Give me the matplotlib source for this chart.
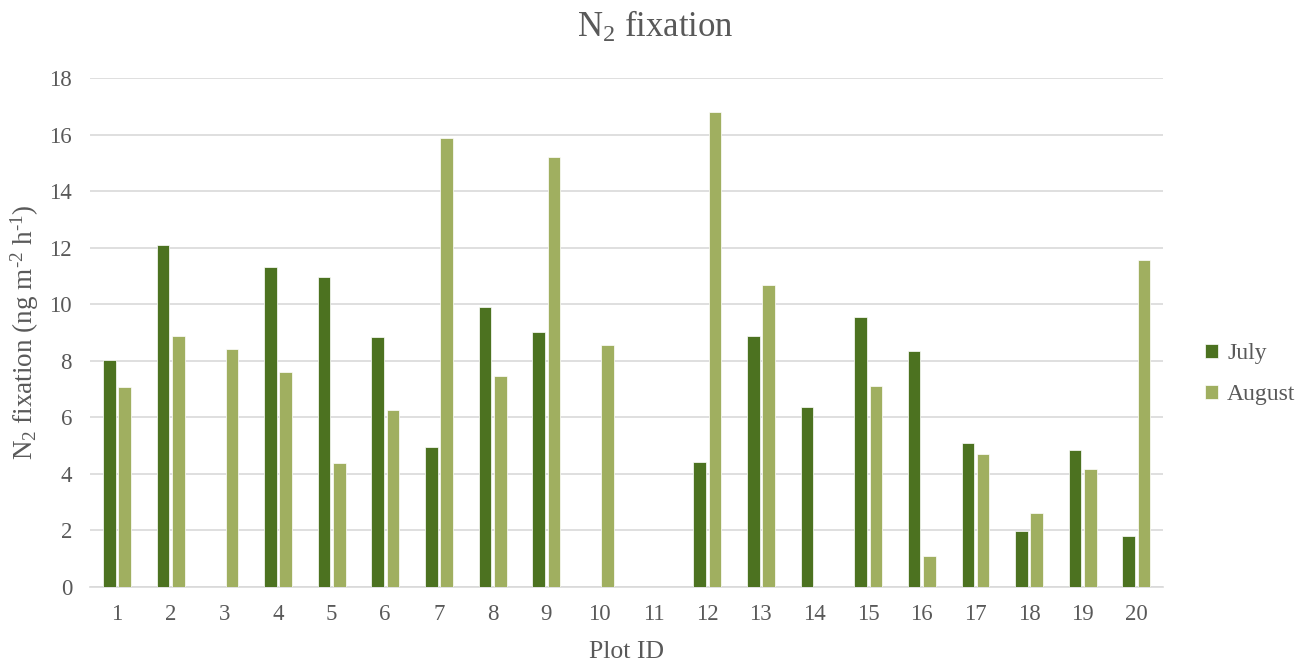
import numpy as np
import matplotlib
matplotlib.use('Agg')
from matplotlib import pyplot as plt

plot_ids = [str(i) for i in range(1, 21)]
july = [8.03, 12.09, 0, 11.32, 10.98, 8.85, 4.94, 9.90, 9.03, 0,
        0, 4.41, 8.86, 6.38, 9.54, 8.35, 5.09, 1.97, 4.83, 1.80]
august = [7.08, 8.89, 8.40, 7.59, 4.40, 6.26, 15.89, 7.46, 15.20, 8.56,
          0, 16.80, 10.68, 0, 7.11, 1.09, 4.72, 2.62, 4.16, 11.58]

plt.rcParams['font.family'] = ['Liberation Serif', 'DejaVu Serif']
plt.rcParams['mathtext.fontset'] = 'custom'
plt.rcParams['mathtext.rm'] = 'Liberation Serif'
plt.rcParams['mathtext.it'] = 'Liberation Serif'
plt.rcParams['mathtext.default'] = 'rm'

txt = '#595959'
c_jul = '#4C7220'
c_aug = '#A0AF60'

fig = plt.figure(figsize=(13.11, 6.66), dpi=100)
ax = fig.add_axes([0.0687, 0.1186, 0.8185, 0.7643])

x = np.arange(len(plot_ids))
w = 0.235
ax.bar(x - 0.14, july, w, color=c_jul, edgecolor='white', linewidth=0.5, label='July', zorder=3)
ax.bar(x + 0.145, august, w, color=c_aug, edgecolor='white', linewidth=0.5, label='August', zorder=3)

ax.set_xlim(-0.5, len(plot_ids) - 0.5)
ax.set_ylim(0, 18)
ax.set_yticks(range(0, 19, 2))
ax.set_xticks(x)
ax.set_xticklabels(plot_ids)
ax.grid(axis='y', color='#D9D9D9', linewidth=1.2, zorder=0)
for s in ['top', 'right', 'left']:
    ax.spines[s].set_visible(False)
ax.spines['bottom'].set_color('#D9D9D9')
ax.spines['bottom'].set_linewidth(1.2)
ax.tick_params(axis='both', length=0, labelsize=16.5, labelcolor=txt)
ax.tick_params(axis='y', pad=13)
ax.tick_params(axis='x', pad=12)

fig.text(0.5, 1 - 27 / 666, 'N$_2$ fixation', fontsize=25, color=txt, ha='center', va='center')

ax.set_xlabel('Plot ID', fontsize=18.5, color=txt, va='center')
ax.xaxis.set_label_coords(0.5, -0.128)
ax.set_ylabel(r'N$_2$ fixation (ng m$^{\text{-}2}$ h$^{\text{-}1}$)', fontsize=19.5, color=txt, va='center')
ax.yaxis.set_label_coords(-0.0606, 0.5)

ax.legend(loc='center left', bbox_to_anchor=(1.019, 0.418), frameon=False,
          fontsize=17, labelcolor=txt, handlelength=0.55, handleheight=0.55,
          handletextpad=0.4, labelspacing=0.85)

fig.savefig('out.png', dpi=100)
